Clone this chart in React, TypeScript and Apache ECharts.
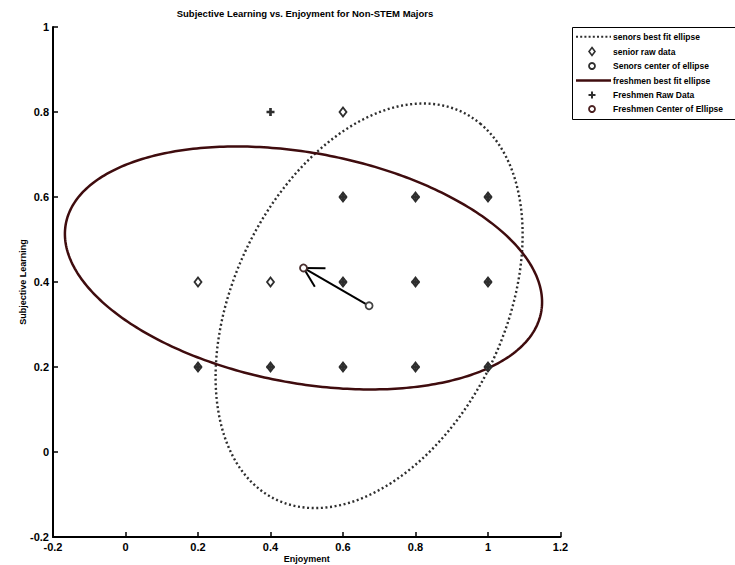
import React, { useEffect, useRef } from "react";
import * as echarts from "echarts";

const chartTitle = "Subjective Learning vs. Enjoyment for Non-STEM Majors";
const xName = "Enjoyment";
const yName = "Subjective Learning";
const xMin = -0.2, xMax = 1.2, yMin = -0.2, yMax = 1, tickStep = 0.2;

// raw survey points [enjoyment, subjective learning]
const seniorRaw = [
  [0.2, 0.4], [0.4, 0.4], [0.6, 0.8],
  [0.6, 0.6], [0.8, 0.6], [1, 0.6],
  [0.6, 0.4], [0.8, 0.4], [1, 0.4],
  [0.2, 0.2], [0.4, 0.2], [0.6, 0.2], [0.8, 0.2], [1, 0.2],
];
const freshmenRaw = [
  [0.4, 0.8],
  [0.6, 0.6], [0.8, 0.6], [1, 0.6],
  [0.6, 0.4], [0.8, 0.4], [1, 0.4],
  [0.2, 0.2], [0.4, 0.2], [0.6, 0.2], [0.8, 0.2], [1, 0.2],
];
const seniorCenter = [0.672, 0.344];
const freshmenCenter = [0.491, 0.433];
// ellipse: [cx, cy, semi-major, semi-minor, angle deg]
const seniorEllipse = [0.672, 0.344, 0.527, 0.358, 54.2];
const freshmenEllipse = [0.491, 0.433, 0.664, 0.272, -8.35];

const legendLabels = [
  "senors best fit ellipse",
  "senior raw data",
  "Senors center of ellipse",
  "freshmen best fit ellipse",
  "Freshmen Raw Data",
  "Freshmen Center of Ellipse",
];

const FONT = "Liberation Sans, Arial, sans-serif";
const DARK = "#2e2e2e";
const MAROON = "#3f0c0e";
const PLUS = "path://M3,0H6V3H9V6H6V9H3V6H0V3H3Z";

function ellipseRender(color: string, dash: number[] | null, width: number) {
  return (params: any, api: any) => {
    const cx = api.value(0), cy = api.value(1), a = api.value(2), b = api.value(3);
    const phi = (api.value(4) * Math.PI) / 180;
    const pts: number[][] = [];
    const N = 360;
    for (let i = 0; i <= N; i++) {
      const t = (i / N) * Math.PI * 2;
      const x = cx + a * Math.cos(t) * Math.cos(phi) - b * Math.sin(t) * Math.sin(phi);
      const y = cy + a * Math.cos(t) * Math.sin(phi) + b * Math.sin(t) * Math.cos(phi);
      pts.push(api.coord([x, y]));
    }
    return {
      type: "polyline",
      shape: { points: pts },
      style: { stroke: color, lineWidth: width, lineDash: dash || undefined, fill: null, lineCap: "butt" },
    };
  };
}

function arrowRender(params: any, api: any) {
  const p1 = api.coord([api.value(0), api.value(1)]);
  const p2 = api.coord([api.value(2), api.value(3)]);
  const ang = Math.atan2(p1[1] - p2[1], p1[0] - p2[0]);
  const L = 22, h = (29 * Math.PI) / 180;
  const st = { stroke: "#000", lineWidth: 2 };
  return {
    type: "group",
    children: [
      { type: "line", shape: { x1: p1[0], y1: p1[1], x2: p2[0], y2: p2[1] }, style: st },
      { type: "line", shape: { x1: p2[0], y1: p2[1], x2: p2[0] + L * Math.cos(ang - h), y2: p2[1] + L * Math.sin(ang - h) }, style: st },
      { type: "line", shape: { x1: p2[0], y1: p2[1], x2: p2[0] + L * Math.cos(ang + h), y2: p2[1] + L * Math.sin(ang + h) }, style: st },
    ],
  };
}

const fmt = (v: number) => String(Math.round(v * 10) / 10);

export default function App() {
  const ref = useRef<HTMLDivElement>(null);
  useEffect(() => {
    document.body.style.margin = "0";
    const chart = echarts.init(ref.current!, null, { renderer: "svg" });
    const lx = 572, ly = 27;
    const rowY = [36.7, 51.5, 66, 80.5, 95, 109];
    const legendGraphics: any[] = [
      { type: "rect", shape: { x: lx + 0.5, y: ly + 0.5, width: 175, height: 92 }, style: { fill: "#fff", stroke: "#000", lineWidth: 1 } },
      { type: "line", shape: { x1: 576, y1: rowY[0], x2: 611, y2: rowY[0] }, style: { stroke: DARK, lineWidth: 2, lineDash: [2, 2.2] } },
      { type: "polygon", shape: { points: [[592, rowY[1] - 4], [595, rowY[1]], [592, rowY[1] + 4], [589, rowY[1]]] }, style: { fill: "#fff", stroke: DARK, lineWidth: 1.6 } },
      { type: "circle", shape: { cx: 592, cy: rowY[2], r: 3 }, style: { fill: "#fff", stroke: DARK, lineWidth: 1.8 } },
      { type: "line", shape: { x1: 576, y1: rowY[3], x2: 611, y2: rowY[3] }, style: { stroke: MAROON, lineWidth: 2.5 } },
      { type: "rect", shape: { x: 588.5, y: rowY[4] - 1, width: 7, height: 2 }, style: { fill: DARK } },
      { type: "rect", shape: { x: 591, y: rowY[4] - 3.5, width: 2, height: 7 }, style: { fill: DARK } },
      { type: "circle", shape: { cx: 592, cy: rowY[5], r: 3 }, style: { fill: "#fff", stroke: "#4a2020", lineWidth: 1.8 } },
    ];
    legendLabels.forEach((t, i) => {
      legendGraphics.push({
        type: "text",
        x: 613,
        y: rowY[i],
        style: { text: t, fill: "#000", font: `bold 8.5px ${FONT}`, textAlign: "left", textVerticalAlign: "middle" },
      });
    });
    legendGraphics.push({
      type: "text",
      x: 305,
      y: 13,
      style: { text: chartTitle, fill: "#000", font: `bold 9.5px ${FONT}`, textAlign: "center", textVerticalAlign: "middle" },
    });

    const axisCommon = {
      type: "value",
      interval: tickStep,
      splitLine: { show: false },
      axisLine: { show: true, onZero: false, lineStyle: { color: "#000", width: 2 } },
      axisTick: { show: true, inside: true, length: 5, lineStyle: { color: "#000", width: 1.5 } },
      nameLocation: "middle",
      nameMoveOverlap: false,
      nameTextStyle: { color: "#000", fontWeight: "bold", fontSize: 9, fontFamily: FONT },
    };

    chart.setOption({
      animation: false,
      backgroundColor: "#fff",
      grid: { left: 53, right: 174.5, top: 27, bottom: 28, containLabel: false, outerBoundsMode: "none" },
      xAxis: {
        ...axisCommon,
        min: xMin,
        max: xMax,
        name: xName,
        nameGap: 17,
        axisLabel: { color: "#000", fontWeight: "bold", fontSize: 11, fontFamily: FONT, margin: 4, formatter: fmt },
      },
      yAxis: {
        ...axisCommon,
        min: yMin,
        max: yMax,
        name: yName,
        nameGap: 26,
        nameRotate: 90,
        axisLabel: { color: "#000", fontWeight: "bold", fontSize: 11, fontFamily: FONT, margin: 4, formatter: fmt },
      },
      graphic: legendGraphics,
      series: [
        {
          type: "custom",
          name: "senors best fit ellipse",
          data: [seniorEllipse],
          encode: { x: 0, y: 1 },
          renderItem: ellipseRender(DARK, [2, 2.6], 2.4),
          z: 2,
        },
        {
          type: "custom",
          name: "freshmen best fit ellipse",
          data: [freshmenEllipse],
          encode: { x: 0, y: 1 },
          renderItem: ellipseRender(MAROON, null, 2.5),
          z: 2,
        },
        {
          type: "scatter",
          name: "senior raw data",
          data: seniorRaw,
          symbol: "diamond",
          symbolSize: [7, 9],
          itemStyle: { color: "#fff", borderColor: DARK, borderWidth: 1.8, opacity: 1 },
          z: 3,
        },
        {
          type: "scatter",
          name: "Freshmen Raw Data",
          data: freshmenRaw,
          symbol: PLUS,
          symbolSize: 8,
          itemStyle: { color: DARK, opacity: 1 },
          z: 4,
        },
        {
          type: "custom",
          name: "arrow",
          data: [[seniorCenter[0], seniorCenter[1], freshmenCenter[0], freshmenCenter[1]]],
          encode: { x: [0, 2], y: [1, 3] },
          renderItem: arrowRender,
          z: 5,
        },
        {
          type: "scatter",
          name: "Senors center of ellipse",
          data: [seniorCenter],
          symbol: "circle",
          symbolSize: 7,
          itemStyle: { color: "#fff", borderColor: "#444", borderWidth: 1.8, opacity: 1 },
          z: 6,
        },
        {
          type: "scatter",
          name: "Freshmen Center of Ellipse",
          data: [freshmenCenter],
          symbol: "circle",
          symbolSize: 7,
          itemStyle: { color: "#fff", borderColor: "#4a3030", borderWidth: 1.8, opacity: 1 },
          z: 6,
        },
      ],
    });
    return () => chart.dispose();
  }, []);
  return <div ref={ref} style={{ width: 735, height: 565 }} />;
}
